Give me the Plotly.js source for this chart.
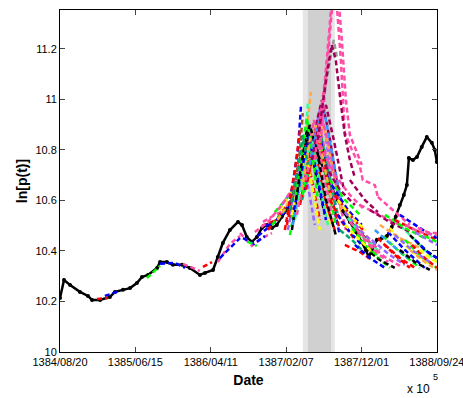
<!DOCTYPE html>
<html><head><meta charset="utf-8">
<script src="https://cdn.plot.ly/plotly-3.0.1.min.js"></script>
<style>html,body{margin:0;padding:0;background:#fff}#chart{width:463px;height:398px}</style>
</head><body><div id="chart"></div>
<script>
// x axis: days since 1384/08/20
const tickDays = [0, 299, 598, 897, 1196, 1495];
const tickDates = ['1384/08/20','1385/06/15','1386/04/11','1387/02/07','1387/12/01','1388/09/24'];
const yTicks = [10, 10.2, 10.4, 10.6, 10.8, 11, 11.2];
const yTickText = ['10','10.2','10.4','10.6','10.8','11','11.2'];

// shaded window (days)
const bandOuter = [963, 1090];
const bandInner = [983, 1075];

// observed log price
const priceDay = [0,16,40,79,111,127,159,198,218,250,278,305,325,349,385,397,424,448,484,515,555,575,607,626,646,674,706,722,741,761,781,801,821,841,860,880,904,928,952,967,983,995,1011,1031,1055,1078,1102,1126,1150,1174,1197,1213,1225,1237,1257,1277,1297,1316,1332,1348,1364,1376,1384,1400,1416,1435,1455,1475,1487,1495];
const priceLn = [10.214,10.285,10.265,10.238,10.222,10.206,10.206,10.218,10.238,10.246,10.253,10.273,10.297,10.305,10.333,10.356,10.356,10.345,10.345,10.333,10.305,10.313,10.325,10.376,10.432,10.483,10.515,10.503,10.455,10.436,10.455,10.491,10.503,10.491,10.503,10.535,10.570,10.622,10.681,10.760,10.840,10.859,10.840,10.760,10.701,10.650,10.602,10.554,10.515,10.475,10.436,10.404,10.376,10.404,10.444,10.451,10.459,10.495,10.535,10.582,10.622,10.661,10.768,10.760,10.772,10.812,10.851,10.828,10.800,10.752];

// predicted trajectories
const palette = ['#0000ff','#ff0000','#00ff00','#000000','#ff4da6','#ffff00','#ffaa44','#9966ff','#33ff99','#a0005a','#999999','#a0522d','#00a86b','#3399ff'];
const predDay = [
 [178,238],[147,190],[345,397],[397,456,496],[488,555],[567,603],[626,674,714],[634,714],
 [714,761,801,841],[726,769,813],[745,781],[801,841,872],[805,852,892],[817,856],
 [852,912,944],[872,920],[880,932],
 [773,825,880,920],[785,833,892,932],[825,872,924],[841,892,936],[864,912,952],
 [904,944,956],[892,932,952],[912,952,963],[912,952,971,991],[932,971,995],[932,971,983],
 [920,960,979,1011,1051],[936,971,999,1039,1071],[952,991,1023,1051,1090],[952,991,1031,1051,1078],
 [971,1011,1039,1071,1110],[960,999,1031,1063,1102],[971,1003,1031,1071,1110],[952,983,1011,1051,1090],
 [991,1031,1071,1086,1098],[924,963,987,1015,1047],[940,975,1007,1039,1078],[963,999,1023,1055,1094],
 [900,940,967,999,1031],[991,1023,1047,1078,1118],
 [904,936,960,983,1011],[920,952,975,1003,1031],[944,975,999,1031,1063],[928,960,987,1019,1055],
 [975,1007,1031,1063,1110],[936,963,979,999,1023],[960,991,1015,1047,1086],[936,967,991,1023,1055,1094],
 [975,1011,1039,1071,1102,1134],[912,944,963,983],[991,1023,1047,1078,1118],[999,1031,1055,1086,1126],
 [1011,1051,1075,1086,1098,1114,1130,1158,1190,1201,1249,1261],
 [1031,1063,1082,1102,1118,1134,1150,1174,1197],
 [1023,1055,1078,1094,1110,1130,1150,1170],
 [1031,1090,1150,1209],[1051,1110,1170],[1071,1130,1190],[1078,1142,1197],[1090,1150,1209],
 [1102,1158,1213],[1110,1170,1229],[1118,1174,1237],[1130,1190,1253],[1142,1197,1261],
 [1150,1209,1269],[1110,1158,1197],[1130,1190,1237],[1170,1229,1289],[1190,1249,1308],
 [1209,1269,1328],[1229,1289,1348],[1237,1308,1368],[1261,1328,1388],[1281,1348,1427],
 [1301,1368,1447],[1308,1380,1467],[1328,1408,1495],[1269,1348,1427],[1190,1269,1348],
 [1229,1308,1388],[1289,1368,1447],[1328,1408,1495],[1348,1427,1495],[1368,1427,1495],
 [1388,1447,1495],[1368,1427,1495],[1396,1447,1495],[1408,1459,1495],[1427,1467,1495],
 [1261,1328,1388],[1150,1209,1261],[1249,1316,1380],[1348,1408,1467],[1388,1447,1495],
 [1071,1118,1170],[1102,1150,1197],[1158,1213,1269],[1182,1237,1301],[1130,1182,1237],
 [1328,1396,1467],[1408,1459,1495],[1419,1467,1495],[1447,1495],[1289,1348,1408]
];
const predLn = [
 [10.222,10.242],[10.210,10.214],[10.293,10.341],[10.349,10.353,10.333],[10.349,10.321],[10.337,10.356],[10.356,10.428,10.459],[10.372,10.451],
 [10.471,10.420,10.451,10.471],[10.451,10.428,10.459],[10.436,10.420],[10.499,10.515,10.531],[10.515,10.543,10.562],[10.499,10.515],
 [10.554,10.622,10.681],[10.562,10.634],[10.582,10.661],
 [10.475,10.515,10.582,10.642],[10.459,10.499,10.554,10.622],[10.483,10.543,10.610],[10.503,10.562,10.650],[10.523,10.602,10.701],
 [10.543,10.800,10.974],[10.483,10.721,10.879],[10.523,10.800,10.946],[10.463,10.681,10.840,10.721],[10.543,10.800,11.030],[10.523,10.800,10.986],
 [10.483,10.741,10.879,10.721,10.543],[10.562,10.760,10.820,10.642,10.503],[10.602,10.800,10.919,10.800,10.602],[10.642,10.800,10.958,10.879,10.681],
 [10.681,10.879,10.998,10.840,10.602],[10.602,10.760,10.879,10.721,10.543],[10.642,10.820,10.859,10.642,10.463],[10.582,10.741,10.800,10.602,10.483],
 [10.721,10.919,11.156,11.235,11.170],[10.503,10.721,10.899,10.760,10.582],[10.543,10.741,10.919,10.741,10.543],[10.622,10.800,10.887,10.701,10.503],
 [10.503,10.701,10.840,10.681,10.523],[10.701,10.840,10.899,10.741,10.543],
 [10.483,10.642,10.760,10.661,10.503],[10.543,10.701,10.800,10.642,10.483],[10.602,10.760,10.840,10.661,10.503],[10.562,10.729,10.859,10.701,10.523],
 [10.642,10.800,10.840,10.661,10.483],[10.622,10.820,10.927,10.800,10.602],[10.642,10.840,10.899,10.741,10.562],[10.602,10.800,10.899,10.780,10.602,10.463],
 [10.681,10.840,10.927,10.800,10.622,10.483],[10.562,10.721,10.859,10.741],[10.741,10.899,10.958,10.800,10.582],[10.760,10.919,10.978,10.840,10.642],
 [10.760,11.077,11.354,11.512,11.374,11.156,10.867,10.800,10.733,10.681,10.661,10.614],
 [10.800,11.156,11.394,11.434,11.236,10.998,10.859,10.800,10.741],
 [10.840,11.077,11.216,11.156,11.018,10.859,10.760,10.689],
 [10.820,10.701,10.622,10.562],[10.741,10.642,10.582],[10.681,10.602,10.543],[10.661,10.562,10.503],[10.622,10.543,10.475],
 [10.602,10.531,10.483],[10.582,10.503,10.444],[10.562,10.491,10.424],[10.554,10.483,10.424],[10.531,10.459,10.404],
 [10.515,10.451,10.404],[10.483,10.444,10.404],[10.424,10.396,10.364],[10.424,10.372,10.333],[10.444,10.384,10.333],
 [10.412,10.364,10.333],[10.424,10.376,10.341],[10.444,10.384,10.345],[10.451,10.384,10.333],[10.459,10.396,10.333],
 [10.475,10.404,10.333],[10.491,10.412,10.345],[10.523,10.444,10.356],[10.503,10.451,10.412],[10.582,10.543,10.503],
 [10.562,10.515,10.475],[10.543,10.491,10.451],[10.523,10.483,10.444],[10.543,10.491,10.451],[10.503,10.475,10.463],
 [10.463,10.404,10.372],[10.444,10.384,10.333],[10.424,10.372,10.333],[10.475,10.444,10.424],[10.404,10.372,10.356],
 [10.614,10.554,10.503],[10.681,10.602,10.554],[10.483,10.424,10.372],[10.404,10.356,10.325],[10.404,10.356,10.325],
 [10.602,10.515,10.444],[10.543,10.475,10.424],[10.491,10.424,10.372],[10.475,10.412,10.356],[10.503,10.451,10.396],
 [10.463,10.404,10.356],[10.444,10.396,10.372],[10.491,10.471,10.471],[10.459,10.436],[10.424,10.372,10.333]
];
const predColor = [0,1,2,0,4,1,4,0, 4,0,2,1,4,0, 2,5,7, 4,0,1,2,6,
 0,1,11,2,6,8, 3,5,4,7, 9,12,0,1, 10,13,4,2, 1,6,
 7,5,8,0, 1,2,6,3, 4,12,13,9,
 4,4,9,
 4,9,2,0,1, 5,6,3,7,8, 4,12,1,0,2, 3,4,7,1,2, 0,5,8,6,4, 9,2,1,0,4, 3,2,1,7,5, 4,9,13,3,6,
 1,0,2,4,5, 7,0,4,2,1];

const traces = [];
traces.push({x: priceDay, y: priceLn, type: 'scatter', mode: 'lines+markers',
  line: {color: '#000', width: 2.5}, marker: {color: '#000', size: 4}, showlegend: false});
for (let i = 0; i < predDay.length; i++) {
  traces.push({x: predDay[i], y: predLn[i], type: 'scatter', mode: 'lines', hoverinfo: 'skip',
    line: {color: palette[predColor[i]], width: 2.5, dash: '5px,3px'}, showlegend: false});
}

const fam = 'Liberation Sans, Arial, sans-serif';
const font = {family: fam, size: 11, color: '#000'};
const layout = {
  width: 463, height: 398,
  margin: {l: 60, r: 26, t: 10, b: 46},
  paper_bgcolor: '#fff', plot_bgcolor: '#fff',
  font: font, showlegend: false,
  xaxis: {range: [0, 1495.5], tickvals: tickDays, ticktext: tickDates, ticks: 'inside', ticklen: 5,
    ticklabeloverflow: 'allow',
    showline: true, linecolor: '#000', linewidth: 1, mirror: 'ticks', showgrid: false, zeroline: false,
    tickfont: font, title: {text: '<b>Date</b>', font: {family: fam, size: 14, color: '#000'}, standoff: 7}},
  yaxis: {range: [10, 11.354], tickvals: yTicks, ticktext: yTickText, ticks: 'inside', ticklen: 5,
    showline: true, linecolor: '#000', linewidth: 1, mirror: 'ticks', showgrid: false, zeroline: false,
    tickfont: font, title: {text: '<b>ln[p(t)]</b>', font: {family: fam, size: 14, color: '#000'}, standoff: 4}},
  shapes: [
    {type: 'rect', xref: 'x', yref: 'paper', x0: bandOuter[0], x1: bandOuter[1], y0: 0, y1: 1, fillcolor: '#e6e6e6', line: {width: 0}, layer: 'below'},
    {type: 'rect', xref: 'x', yref: 'paper', x0: bandInner[0], x1: bandInner[1], y0: 0, y1: 1, fillcolor: '#d0d0d0', line: {width: 0}, layer: 'below'}
  ],
  annotations: [
    {text: 'x 10', xref: 'paper', yref: 'paper', x: 0.987, y: -0.082, xanchor: 'right', yanchor: 'top', showarrow: false, font: {family: fam, size: 12, color: '#000'}},
    {text: '5', xref: 'paper', yref: 'paper', x: 0.985, y: -0.054, xanchor: 'left', yanchor: 'top', showarrow: false, font: {family: fam, size: 9, color: '#000'}}
  ]
};
Plotly.newPlot('chart', traces, layout, {staticPlot: true, displayModeBar: false});
</script></body></html>
